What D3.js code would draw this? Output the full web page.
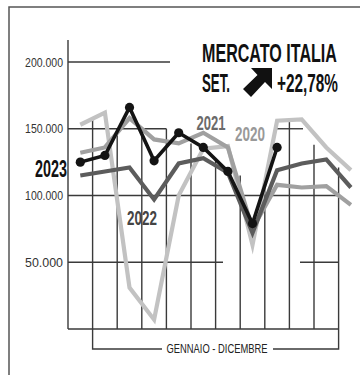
<!DOCTYPE html>
<html><head><meta charset="utf-8">
<script src="https://cdn.jsdelivr.net/npm/d3@7"></script>
<style>
html,body{margin:0;padding:0;background:#fff;}
svg{display:block;}
text{font-family:"Liberation Sans",Arial,sans-serif;}
</style></head>
<body>
<svg id="c" width="360" height="375"></svg>
<script>
// ---- data ----
const months = ["GEN","FEB","MAR","APR","MAG","GIU","LUG","AGO","SET","OTT","NOV","DIC"];
const years = ["2020","2021","2022","2023"];
const v2020 = [153000,162000,31000,7000,100000,135000,137000,63000,156000,157000,136000,119000];
const v2021 = [132000,136000,158000,142000,139000,147000,136000,75000,108000,106000,107000,93000];
const v2022 = [115000,118000,121000,97000,124000,128000,117000,72000,119000,124000,127000,106000];
const v2023 = [125000,130000,166000,126000,147000,136000,118000,79000,136000];
const yTicks = [50000,100000,150000,200000];
const title = "MERCATO ITALIA";
const subLabel = "SET.";
const change = "+22,78%";
const xLabel = "GENNAIO - DICEMBRE";

const svg = d3.select("#c");
const x = d3.scaleBand().domain(months).range([68, 68 + 12 * 24.6]).padding(0);
const y = d3.scaleLinear().domain([0, 200000]).range([329, 62]);
const cx = m => x(m) + x.bandwidth() / 2;
const fmt = d3.formatLocale({decimal:",", thousands:".", grouping:[3], currency:["","€"]}).format(",.0f");
const gridC = "#3a3a3a";

// squeeze a text horizontally to a target width, around its anchor point
function fit(sel, width) {
  sel.each(function() {
    const n = this, w0 = n.getComputedTextLength();
    const tw = typeof width === "function" ? width(d3.select(n).datum()) : width;
    const s = tw / w0;
    const ax = +n.getAttribute("x") || 0, ay = +n.getAttribute("y") || 0;
    n.setAttribute("transform", `translate(${ax},${ay}) scale(${s},1) translate(${-ax},${-ay})`);
  });
}

// frame
svg.append("path").attr("d","M9,375 V7 H360").attr("fill","none").attr("stroke","#555").attr("stroke-width",1.5);

// grid: horizontal segments
const hseg = [
  [200000, 68, 170],
  [150000, 68, 166.4],
  [150000, 276, 303],
  [100000, 68, 338.6],
  [50000, 68, 223],
  [50000, 300, 338.6],
  [0, 68, 338.6]
];
svg.append("g").selectAll("line").data(hseg).join("line")
  .attr("x1", d => d[1]).attr("x2", d => d[2])
  .attr("y1", d => y(d[0])).attr("y2", d => y(d[0]))
  .attr("stroke", gridC).attr("stroke-width", 1.4);

// grid: vertical lines at month boundaries (tops vary, stylised)
const vTops = {FEB:158000,MAR:150000,APR:150000,MAG:150000,GIU:139000,LUG:127000,AGO:115000,SET:110000,OTT:155000,NOV:138000,DIC:121000};
svg.append("g").selectAll("line").data(months.slice(1)).join("line")
  .attr("x1", d => x(d)).attr("x2", d => x(d))
  .attr("y1", d => y(vTops[d])).attr("y2", y(0))
  .attr("stroke", gridC).attr("stroke-width", 1.4);

// y axis line
svg.append("line").attr("x1",68).attr("x2",68).attr("y1",40).attr("y2",y(0))
  .attr("stroke", gridC).attr("stroke-width", 1.4);

// y tick labels via axis
const ya = svg.append("g").attr("transform","translate(63,0)")
  .call(d3.axisLeft(y).tickValues(yTicks).tickFormat(fmt).tickSize(0).tickPadding(0));
ya.select(".domain").remove();
ya.selectAll("text").attr("font-family",null).attr("font-size",12).attr("fill","#333")
  .attr("x",0).attr("y",0).attr("dy","0.35em");
ya.selectAll("text").each(function() {
  const n = this, w0 = n.getComputedTextLength(), s = 38 / w0;
  n.setAttribute("transform", `scale(${s},1)`);
});

// bottom bracket
const by = 349;
svg.append("path").attr("d",`M${x("FEB")},${y(0)} V${by} H162 M273,${by} H338.6 V${y(0)}`)
  .attr("fill","none").attr("stroke",gridC).attr("stroke-width",1.4);
svg.append("text").attr("x",217).attr("y",by+4.5).attr("text-anchor","middle")
  .attr("font-size",13).attr("fill","#222").text(xLabel).call(fit, 101);

// lines
const series = [
  {year:"2020", values:v2020, color:"#c2c2c2", w:4.2},
  {year:"2021", values:v2021, color:"#a0a0a0", w:4.2},
  {year:"2022", values:v2022, color:"#5c5c5c", w:4.2},
  {year:"2023", values:v2023, color:"#141414", w:3.6}
];
const line = d3.line().x((d,i) => cx(months[i])).y(d => y(d));
svg.append("g").selectAll("path").data(series).join("path")
  .attr("d", s => line(s.values))
  .attr("fill","none").attr("stroke", s => s.color).attr("stroke-width", s => s.w)
  .attr("stroke-linejoin","miter").attr("stroke-miterlimit",10);

svg.append("g").selectAll("circle").data(v2023).join("circle")
  .attr("cx",(d,i) => cx(months[i])).attr("cy", d => y(d)).attr("r",4.6).attr("fill","#141414");

// year labels
const labels = [
  {t:years[3], x:67, y:177, a:"end", c:"#111", s:24, w:32},
  {t:years[2], x:142, y:225, a:"middle", c:"#444", s:21, w:30},
  {t:years[1], x:211, y:130, a:"middle", c:"#6a6a6a", s:21, w:29},
  {t:years[0], x:250, y:141, a:"middle", c:"#999", s:21, w:30}
];
svg.append("g").selectAll("text").data(labels).join("text")
  .attr("x", d => d.x).attr("y", d => d.y).attr("text-anchor", d => d.a)
  .attr("font-size", d => d.s).attr("font-weight","bold").attr("fill", d => d.c)
  .text(d => d.t).call(fit, d => d.w);

// title block
svg.append("text").attr("x",202).attr("y",62).attr("font-size",26).attr("font-weight","bold")
  .attr("fill","#111").text(title).call(fit, 135);
svg.append("text").attr("x",202).attr("y",92).attr("font-size",26).attr("font-weight","bold")
  .attr("fill","#111").text(subLabel).call(fit, 28);
svg.append("text").attr("x",277).attr("y",92).attr("font-size",26).attr("font-weight","bold")
  .attr("fill","#111").text(change).call(fit, 61);
// arrow (north-east)
const ar = d3.path();
ar.moveTo(251,68); ar.lineTo(272,68); ar.lineTo(272,89); ar.lineTo(265,82);
ar.lineTo(251,97); ar.lineTo(243,89); ar.lineTo(257.5,75); ar.closePath();
svg.append("path").attr("d", ar.toString()).attr("fill","#111");
</script>
</body></html>
